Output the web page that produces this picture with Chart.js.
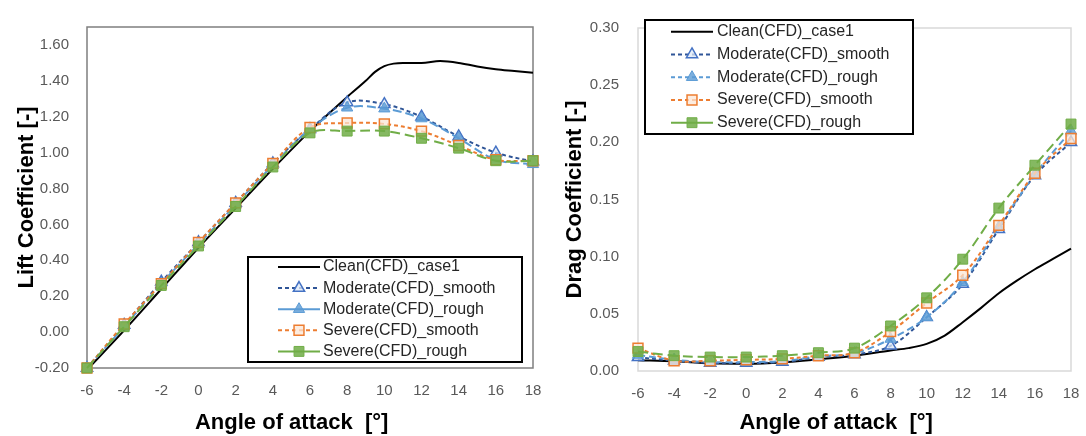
<!DOCTYPE html>
<html lang="en">
<head>
<meta charset="UTF-8">
<title>Lift and drag coefficient vs angle of attack</title>
<script src="https://cdn.jsdelivr.net/npm/chart.js"></script>
<style>
    body {
        margin: 0;
        background: #ffffff;
    }
    #wrap {
        position: relative;
        width: 1086px;
        height: 436px;
        overflow: hidden;
    }
    #liftBox { position: absolute; left: 0; top: 0; width: 560px; height: 436px; }
    #dragBox { position: absolute; left: 540px; top: 0; width: 546px; height: 436px; }
</style>
</head>
<body>
<div id="wrap">
    <div id="liftBox"><canvas id="liftChart" width="560" height="436"></canvas></div>
    <div id="dragBox"><canvas id="dragChart" width="546" height="436"></canvas></div>
</div>

<script>
    // angles of attack for the iced (CFD) cases
    const angles = [-6, -4, -2, 0, 2, 4, 6, 8, 10, 12, 14, 16, 18];
    const xTicks = [-6, -4, -2, 0, 2, 4, 6, 8, 10, 12, 14, 16, 18];
    const liftTicks = [-0.2, 0, 0.2, 0.4, 0.6, 0.8, 1.0, 1.2, 1.4, 1.6];
    const dragTicks = [0, 0.05, 0.10, 0.15, 0.20, 0.25, 0.30];

    const seriesNames = [
        "Clean(CFD)_case1",
        "Moderate(CFD)_smooth",
        "Moderate(CFD)_rough",
        "Severe(CFD)_smooth",
        "Severe(CFD)_rough"
    ];

    // lift coefficient
    const liftCleanAngles = [-6, -4, -2, 0, 2, 4, 6, 8, 9, 9.5, 10, 10.5, 11, 12, 13, 14, 15, 16, 17, 18];
    const liftClean = [-0.21, 0.01, 0.24, 0.47, 0.69, 0.91, 1.12, 1.31, 1.40, 1.45, 1.482, 1.496, 1.50, 1.50, 1.51, 1.50, 1.48, 1.465, 1.455, 1.445];
    const liftModSmooth = [-0.20, 0.04, 0.28, 0.50, 0.72, 0.94, 1.13, 1.28, 1.27, 1.20, 1.09, 1.00, 0.95];
    const liftModRough = [-0.20, 0.03, 0.27, 0.49, 0.71, 0.93, 1.13, 1.25, 1.245, 1.19, 1.08, 0.96, 0.935];
    const liftSevSmooth = [-0.20, 0.045, 0.27, 0.50, 0.72, 0.94, 1.14, 1.165, 1.16, 1.12, 1.04, 0.96, 0.955];
    const liftSevRough = [-0.20, 0.03, 0.26, 0.48, 0.70, 0.92, 1.11, 1.12, 1.12, 1.08, 1.025, 0.955, 0.955];

    // drag coefficient
    const dragCleanAngles = [-6, -4, -2, 0, 2, 4, 6, 8, 9, 10, 11, 12, 13, 14, 15, 16, 17, 18];
    const dragClean = [0.0095, 0.0085, 0.0068, 0.0064, 0.0075, 0.0102, 0.0134, 0.018, 0.020, 0.0237, 0.031, 0.0427, 0.055, 0.068, 0.079, 0.089, 0.098, 0.107];
    const dragModSmooth = [0.012, 0.009, 0.007, 0.007, 0.0078, 0.0122, 0.0144, 0.022, 0.047, 0.076, 0.124, 0.171, 0.200];
    const dragModRough = [0.014, 0.0098, 0.0078, 0.0078, 0.0087, 0.0128, 0.0156, 0.028, 0.047, 0.0776, 0.126, 0.172, 0.210];
    const dragSevSmooth = [0.020, 0.009, 0.009, 0.0098, 0.0106, 0.0134, 0.016, 0.0344, 0.0595, 0.0838, 0.1274, 0.173, 0.2034];
    const dragSevRough = [0.017, 0.0134, 0.0122, 0.0122, 0.0134, 0.016, 0.020, 0.0394, 0.064, 0.0978, 0.1425, 0.180, 0.216];

    const FONT = '"Liberation Sans", Arial, sans-serif';
    // Excel centres the x title a little left of the plot middle
    const X_TITLE = "Angle of attack  [°]" + "\u00a0".repeat(6);

    function pts(xs, ys) {
        return xs.map((x, i) => ({ x: x, y: ys[i] }));
    }

    function buildDatasets(cleanX, clean, modS, modR, sevS, sevR, dashModRough) {
        return [
            {
                label: seriesNames[0], data: pts(cleanX, clean),
                borderColor: "#000000", borderWidth: 2, pointRadius: 0,
                cubicInterpolationMode: "monotone", order: 5
            },
            {
                label: seriesNames[1], data: pts(angles, modS),
                borderColor: "#2F5597", borderWidth: 2, borderDash: [4, 3], tension: 0.35,
                pointStyle: "triangle", pointRadius: 6.5,
                pointBackgroundColor: "rgba(222,232,246,0.75)", pointBorderColor: "#4472C4", pointBorderWidth: 1.5,
                order: 4
            },
            {
                label: seriesNames[2], data: pts(angles, modR),
                borderColor: "#5B9BD5", borderWidth: 2, borderDash: dashModRough, tension: 0.35,
                pointStyle: "triangle", pointRadius: 6.5,
                pointBackgroundColor: "rgba(91,155,213,0.8)", pointBorderColor: "#5B9BD5", pointBorderWidth: 1,
                order: 3
            },
            {
                label: seriesNames[3], data: pts(angles, sevS),
                borderColor: "#ED7D31", borderWidth: 2, borderDash: [4, 3], tension: 0.35,
                pointStyle: "rect", pointRadius: 7,
                pointBackgroundColor: "rgba(251,229,214,0.75)", pointBorderColor: "#ED7D31", pointBorderWidth: 1.5,
                order: 2
            },
            {
                label: seriesNames[4], data: pts(angles, sevR),
                borderColor: "#70AD47", borderWidth: 2, borderDash: [10, 5], tension: 0.35,
                pointStyle: "rect", pointRadius: 7,
                pointBackgroundColor: "rgba(112,173,71,0.85)", pointBorderColor: "#70AD47", pointBorderWidth: 1,
                order: 1
            }
        ];
    }

    // frame round the plot area
    const framePlugin = {
        id: "frame",
        beforeDatasetsDraw(chart, args, opts) {
            const a = chart.chartArea;
            const ctx = chart.ctx;
            ctx.save();
            ctx.strokeStyle = opts.color;
            ctx.lineWidth = opts.width;
            ctx.strokeRect(a.left, a.top, a.right - a.left, a.bottom - a.top);
            ctx.restore();
        }
    };

    function drawMarker(ctx, ds, x, y) {
        const r = ds.pointRadius;
        ctx.beginPath();
        if (ds.pointStyle === "triangle") {
            ctx.moveTo(x, y - r);
            ctx.lineTo(x + 0.866 * r, y + 0.5 * r);
            ctx.lineTo(x - 0.866 * r, y + 0.5 * r);
            ctx.closePath();
        } else {
            const s = r * Math.SQRT1_2;
            ctx.rect(x - s, y - s, 2 * s, 2 * s);
        }
        ctx.fillStyle = ds.pointBackgroundColor;
        ctx.fill();
        ctx.setLineDash([]);
        ctx.lineWidth = ds.pointBorderWidth;
        ctx.strokeStyle = ds.pointBorderColor;
        ctx.stroke();
    }

    // boxed legend drawn inside the plot area
    const boxLegend = {
        id: "boxLegend",
        afterDatasetsDraw(chart, args, o) {
            const ctx = chart.ctx;
            ctx.save();
            ctx.fillStyle = "#ffffff";
            ctx.fillRect(o.x, o.y, o.w, o.h);
            ctx.strokeStyle = "#000000";
            ctx.lineWidth = 2;
            ctx.strokeRect(o.x, o.y, o.w, o.h);
            ctx.font = "16px " + FONT;
            ctx.textBaseline = "middle";
            chart.data.datasets.forEach((ds, i) => {
                const y = o.firstRow + i * o.rowStep;
                ctx.beginPath();
                ctx.setLineDash(o.dashes[i]);
                ctx.strokeStyle = ds.borderColor;
                ctx.lineWidth = 2;
                ctx.moveTo(o.lineX0, y);
                ctx.lineTo(o.lineX1, y);
                ctx.stroke();
                ctx.setLineDash([]);
                if (ds.pointRadius) drawMarker(ctx, ds, (o.lineX0 + o.lineX1) / 2, y);
                ctx.fillStyle = "#262626";
                ctx.fillText(ds.label, o.textX, y);
            });
            ctx.restore();
        }
    };

    function makeChart(canvasId, datasets, cfg) {
        return new Chart(document.getElementById(canvasId).getContext("2d"), {
            type: "line",
            data: { datasets: datasets },
            plugins: [framePlugin, boxLegend],
            options: {
                responsive: false,
                animation: false,
                datasets: { line: { clip: false } },
                layout: { padding: { top: 13, right: cfg.padRight, left: 0, bottom: 0 } },
                plugins: {
                    legend: { display: false },
                    tooltip: { enabled: false },
                    frame: { color: cfg.frameColor, width: 1.5 },
                    boxLegend: cfg.legend
                },
                scales: {
                    x: {
                        type: "linear",
                        min: -6,
                        max: 18,
                        afterBuildTicks: (scale) => { scale.ticks = xTicks.map(v => ({ value: v })); },
                        afterFit: (scale) => { scale.height = cfg.xHeight; },
                        grid: { display: false },
                        border: { display: false },
                        ticks: {
                            padding: cfg.xTickPad,
                            color: "#595959",
                            font: { family: FONT, size: 15 },
                            maxRotation: 0,
                            callback: (v) => String(v)
                        },
                        title: {
                            display: true,
                            text: X_TITLE,
                            color: "#000000",
                            font: { family: FONT, size: 22, weight: "bold" },
                            padding: { top: 0, bottom: 0 }
                        }
                    },
                    y: {
                        min: cfg.yMin,
                        max: cfg.yMax,
                        afterBuildTicks: (scale) => { scale.ticks = cfg.yTicks.map(v => ({ value: v })); },
                        afterFit: (scale) => { scale.width = cfg.yWidth; },
                        grid: { display: false, drawTicks: false },
                        border: { display: false },
                        ticks: {
                            padding: cfg.yTickPad,
                            color: "#595959",
                            font: { family: FONT, size: 15 },
                            callback: (v) => Number(v).toFixed(2)
                        },
                        title: {
                            display: true,
                            text: cfg.yTitle,
                            color: "#000000",
                            font: { family: FONT, size: 22, weight: "bold" },
                            padding: { top: cfg.yTitlePad, bottom: 0 }
                        }
                    }
                }
            }
        });
    }

    makeChart("liftChart",
        buildDatasets(liftCleanAngles, liftClean, liftModSmooth, liftModRough, liftSevSmooth, liftSevRough, [9, 4]),
        {
            padRight: 27, xHeight: 68, yWidth: 87, yTickPad: 18, yTitlePad: 14, xTickPad: 6,
            yMin: -0.2, yMax: 1.7, yTicks: liftTicks,
            yTitle: "Lift Coefficient [-]", frameColor: "#7F7F7F",
            legend: {
                x: 248, y: 257, w: 274, h: 105,
                firstRow: 267, rowStep: 21.1,
                lineX0: 278, lineX1: 320, textX: 323,
                dashes: [[], [4, 3], [], [4, 3], []]
            }
        });

    makeChart("dragChart",
        buildDatasets(dragCleanAngles, dragClean, dragModSmooth, dragModRough, dragSevSmooth, dragSevRough, [7, 4]),
        {
            padRight: 15, xHeight: 65, yWidth: 98, yTickPad: 19, yTitlePad: 22, xTickPad: 6,
            yMin: 0, yMax: 0.3, yTicks: dragTicks,
            yTitle: "Drag Coefficient [-]", frameColor: "#D9D9D9",
            legend: {
                x: 105, y: 20, w: 268, h: 114,
                firstRow: 31.7, rowStep: 22.75,
                lineX0: 131, lineX1: 173, textX: 177,
                dashes: [[], [4, 3], [4, 3], [4, 3], []]
            }
        });
</script>
</body>
</html>
